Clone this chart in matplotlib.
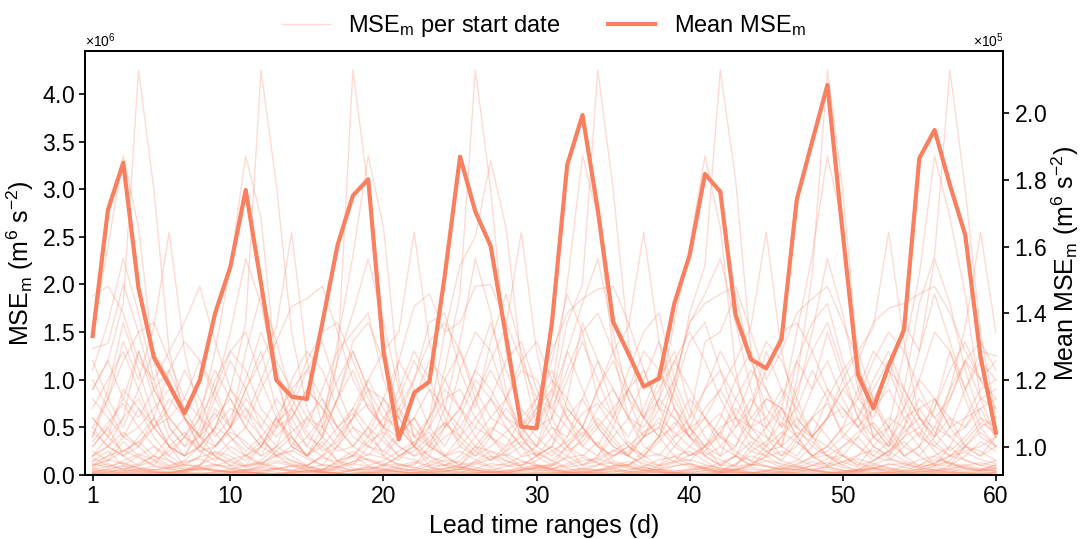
import matplotlib
matplotlib.use("Agg")
import matplotlib.pyplot as plt
from matplotlib.ticker import ScalarFormatter, MultipleLocator
import numpy as np

plt.rcParams["font.family"] = ["Liberation Sans", "DejaVu Sans"]
plt.rcParams["mathtext.fontset"] = "custom"
plt.rcParams["mathtext.rm"] = "Liberation Sans"
plt.rcParams["mathtext.it"] = "Liberation Sans:italic"
plt.rcParams["mathtext.bf"] = "Liberation Sans:bold"

COLOR = "#FA7F5E"

lead_days = list(range(1, 61))

# Mean MSE_m over all start dates (x 1e5, right axis)
mean_mse = [1.332, 1.710, 1.852, 1.475, 1.268, 1.185, 1.100, 1.200, 1.400, 1.540,
            1.770, 1.490, 1.200, 1.150, 1.143, 1.370, 1.605, 1.753, 1.802, 1.285,
            1.022, 1.162, 1.195, 1.512, 1.870, 1.705, 1.602, 1.331, 1.060, 1.055,
            1.370, 1.845, 1.995, 1.710, 1.375, 1.279, 1.180, 1.205, 1.430, 1.575,
            1.818, 1.765, 1.395, 1.262, 1.235, 1.322, 1.742, 1.915, 2.085, 1.640,
            1.215, 1.115, 1.243, 1.350, 1.865, 1.950, 1.785, 1.635, 1.270, 1.042]

# MSE_m per start date (x 1e6, left axis)
hi1 = [0.9, 1.2, 1.8, 4.25, 3.0, 1.3, 0.6, 0.3, 0.5, 0.9,
       1.6, 4.25, 3.05, 1.5, 0.7, 0.4, 1.2, 4.25, 3.0, 1.4,
       0.6, 0.3, 0.5, 1.1, 1.9, 4.25, 3.0, 1.3, 0.5, 0.3,
       0.8, 1.6, 2.0, 4.25, 3.0, 1.4, 0.6, 0.4, 0.9, 1.7,
       2.2, 4.25, 3.1, 1.3, 0.5, 0.3, 1.0, 2.1, 4.25, 3.0,
       1.2, 0.5, 0.3, 0.9, 1.8, 2.3, 4.25, 3.0, 1.5, 0.6]
hi2 = [1.5, 2.4, 3.35, 2.6, 1.2, 0.5, 0.3, 0.6, 1.3, 2.2,
       3.35, 2.7, 1.1, 0.4, 0.2, 0.5, 1.4, 2.3, 3.35, 2.6,
       1.0, 0.4, 0.6, 1.5, 2.2, 2.5, 3.3, 2.6, 1.2, 0.5,
       0.9, 2.0, 3.35, 2.7, 1.3, 0.6, 0.4, 0.8, 1.6, 2.4,
       3.35, 2.6, 1.1, 0.4, 0.3, 0.7, 1.5, 2.3, 3.35, 2.6,
       1.0, 0.4, 0.5, 1.3, 2.1, 3.35, 2.7, 1.9, 0.8, 0.4]
hi3 = [0.4, 0.8, 1.4, 1.0, 1.55, 2.55, 1.3, 0.6, 0.3, 0.5,
       0.9, 1.2, 1.55, 2.55, 1.2, 0.5, 0.3, 0.6, 1.0, 1.3,
       1.5, 2.55, 1.4, 0.7, 0.4, 0.8, 1.2, 1.55, 2.55, 1.3,
       0.6, 0.3, 0.5, 0.9, 1.3, 1.55, 2.55, 1.4, 0.7, 0.4,
       0.6, 0.9, 1.2, 1.55, 2.55, 1.3, 0.6, 0.4, 0.8, 1.1,
       1.3, 1.55, 2.55, 1.4, 0.6, 0.4, 0.9, 1.55, 2.55, 1.5]
hi4 = [1.1, 1.6, 2.27, 1.7, 1.0, 0.5, 0.3, 0.4, 0.9, 1.5,
       2.27, 1.8, 1.0, 0.5, 0.3, 0.6, 1.2, 1.7, 2.27, 1.6,
       0.9, 0.4, 0.3, 0.7, 1.4, 2.27, 1.7, 0.9, 0.4, 0.3,
       0.6, 1.3, 1.8, 2.27, 1.5, 0.8, 0.4, 0.5, 1.0, 1.6,
       1.9, 2.27, 1.6, 0.9, 0.4, 0.3, 0.8, 1.5, 2.27, 1.7,
       0.9, 0.4, 0.3, 0.7, 1.3, 2.27, 1.8, 1.1, 0.6, 0.4]
hi5 = [1.88, 1.98, 1.7, 1.2, 1.0, 1.3, 1.6, 1.98, 1.4, 0.9,
       0.6, 1.0, 1.4, 1.77, 1.85, 1.98, 1.5, 1.0, 0.7, 0.5,
       1.2, 1.77, 1.9, 1.5, 1.6, 1.98, 2.0, 1.6, 1.2, 0.8,
       1.3, 1.7, 1.85, 1.95, 1.98, 1.6, 1.1, 0.7, 1.0, 1.6,
       1.8, 1.9, 1.98, 1.5, 1.0, 1.3, 1.7, 1.85, 1.98, 1.6,
       1.2, 1.6, 1.75, 1.8, 1.9, 1.98, 1.7, 1.3, 1.0, 1.2]
hi6 = [1.33, 1.38, 2.0, 1.5, 0.9, 0.6, 0.8, 1.2, 0.9, 0.5,
       1.3, 1.9, 1.4, 0.8, 0.5, 0.9, 1.3, 1.5, 1.7, 1.0,
       0.6, 1.0, 1.6, 1.7, 1.1, 0.7, 1.4, 1.9, 1.3, 0.7,
       1.2, 1.9, 1.5, 0.8, 0.6, 1.1, 1.5, 1.7, 1.0, 0.6,
       1.4, 1.5, 1.9, 1.2, 0.7, 0.5, 1.2, 1.6, 1.8, 1.2,
       0.8, 0.6, 1.0, 1.6, 1.3, 1.9, 1.4, 0.9, 1.3, 1.25]
mid1 = [0.4, 0.9, 1.6, 1.1, 0.6, 0.3, 0.2, 0.5, 1.0, 1.3,
        1.5, 1.0, 0.6, 0.3, 0.2, 0.4, 0.8, 1.4, 1.6, 1.2,
        0.7, 0.3, 0.2, 0.5, 1.1, 1.5, 1.3, 0.8, 0.4, 0.2,
        0.3, 0.8, 1.6, 1.2, 0.7, 0.3, 0.2, 0.4, 0.9, 1.4,
        1.6, 1.1, 0.6, 0.3, 0.2, 0.4, 0.9, 1.3, 1.6, 1.1,
        0.6, 0.3, 0.2, 0.5, 1.0, 1.5, 1.3, 0.8, 0.4, 0.3]
mid2 = [1.0, 0.7, 0.4, 0.3, 0.6, 1.1, 1.4, 1.2, 0.8, 0.5,
        0.3, 0.2, 0.5, 1.0, 1.3, 1.1, 0.7, 0.4, 0.3, 0.5,
        0.9, 1.3, 1.0, 0.6, 0.3, 0.2, 0.4, 0.8, 1.2, 1.4,
        1.0, 0.6, 0.3, 0.2, 0.5, 0.9, 1.3, 1.1, 0.7, 0.4,
        0.3, 0.2, 0.6, 1.0, 1.4, 1.2, 0.8, 0.4, 0.3, 0.5,
        0.9, 1.3, 1.1, 0.7, 0.4, 0.3, 0.5, 0.9, 1.2, 1.0]
mid3 = [0.9, 1.2, 0.8, 1.3, 0.9, 0.6, 0.4, 0.7, 1.1, 0.8,
        0.5, 0.9, 1.2, 0.9, 0.6, 0.5, 0.8, 1.1, 0.7, 0.5,
        0.4, 0.8, 1.2, 1.0, 0.7, 1.1, 0.9, 0.6, 0.5, 0.8,
        1.1, 0.7, 0.5, 0.9, 1.2, 0.8, 0.6, 0.9, 1.2, 0.9,
        0.6, 0.4, 0.8, 1.1, 0.9, 0.6, 0.5, 0.9, 1.2, 0.8,
        0.5, 0.8, 1.1, 0.9, 0.6, 0.5, 0.9, 1.2, 0.8, 0.9]
mid4 = [0.6, 0.4, 0.9, 0.7, 0.5, 0.8, 0.6, 0.3, 0.5, 0.9,
        0.7, 0.5, 0.8, 0.6, 0.9, 0.7, 0.4, 0.6, 0.9, 0.8,
        0.5, 0.3, 0.6, 0.9, 0.7, 0.5, 0.8, 0.6, 0.4, 0.7,
        0.9, 0.6, 0.4, 0.7, 0.9, 0.6, 0.5, 0.8, 0.6, 0.4,
        0.7, 0.9, 0.6, 0.5, 0.8, 0.7, 0.4, 0.6, 0.9, 0.7,
        0.5, 0.7, 0.9, 0.6, 0.4, 0.8, 0.6, 0.5, 0.8, 0.7]
mid5 = [0.2, 0.3, 0.6, 1.3, 0.8, 0.4, 0.2, 0.3, 0.7, 0.5,
        0.9, 1.3, 0.7, 0.3, 0.2, 0.4, 0.8, 1.3, 0.9, 0.4,
        0.2, 0.3, 0.6, 1.0, 1.3, 0.8, 0.4, 0.2, 0.3, 0.5,
        0.8, 1.3, 0.9, 0.5, 0.3, 0.2, 0.6, 1.0, 1.3, 0.7,
        0.4, 0.2, 0.3, 0.7, 1.3, 0.9, 0.5, 0.3, 0.6, 1.0,
        1.3, 0.8, 0.4, 0.2, 0.3, 0.7, 1.3, 0.9, 0.5, 0.3]
mid6 = [0.7, 1.0, 1.3, 0.9, 0.5, 0.7, 1.1, 0.8, 0.4, 0.6,
        1.0, 1.5, 1.1, 0.7, 0.4, 0.6, 1.0, 1.3, 0.9, 0.6,
        0.8, 1.2, 0.9, 0.5, 0.7, 1.1, 1.6, 1.1, 0.7, 0.5,
        0.6, 1.0, 1.4, 1.0, 0.6, 0.4, 0.7, 1.1, 0.8, 0.5,
        0.9, 1.3, 1.0, 0.6, 0.5, 0.8, 1.2, 0.9, 1.5, 1.0,
        0.6, 0.9, 1.2, 0.8, 0.5, 0.7, 1.1, 1.4, 1.0, 0.8]
mid7 = [1.2, 0.8, 0.5, 0.9, 1.3, 1.0, 0.6, 0.4, 0.8, 1.2,
        0.9, 0.5, 0.3, 0.7, 1.1, 1.4, 0.9, 0.5, 0.4, 0.8,
        1.2, 0.9, 0.5, 0.3, 0.6, 1.0, 0.8, 1.2, 1.4, 0.9,
        0.5, 0.4, 0.8, 1.2, 0.9, 0.6, 1.0, 1.4, 0.9, 0.5,
        0.3, 0.6, 1.0, 1.3, 0.9, 0.5, 0.7, 1.1, 0.8, 0.4,
        0.6, 1.0, 1.3, 0.9, 0.6, 0.4, 0.8, 1.2, 1.0, 0.7]
mid8 = [0.5, 0.8, 1.2, 1.5, 1.6, 1.2, 0.8, 0.6, 0.9, 1.3,
        1.1, 0.7, 0.5, 0.8, 1.2, 1.5, 1.6, 1.2, 0.8, 0.5,
        0.7, 1.0, 1.4, 1.6, 1.3, 0.9, 0.6, 0.8, 1.1, 1.0,
        0.7, 1.1, 1.5, 1.7, 1.3, 0.9, 0.6, 0.8, 1.2, 1.5,
        1.2, 0.8, 0.5, 0.7, 1.1, 1.5, 1.6, 1.3, 0.9, 0.6,
        0.8, 1.2, 1.5, 1.3, 0.9, 0.6, 0.8, 1.2, 1.4, 1.1]
mid9 = [0.3, 0.5, 0.8, 0.6, 0.9, 1.1, 0.7, 0.4, 0.6, 0.8,
        0.5, 0.3, 0.6, 0.9, 1.1, 0.8, 0.5, 0.7, 1.0, 0.7,
        0.4, 0.6, 0.9, 0.7, 0.5, 0.8, 1.1, 0.8, 0.5, 0.7,
        1.0, 0.8, 0.5, 0.3, 0.6, 0.9, 1.1, 0.7, 0.4, 0.6,
        0.9, 1.1, 0.8, 0.5, 0.6, 0.9, 0.7, 0.4, 0.6, 0.9,
        1.1, 0.8, 0.5, 0.7, 1.0, 0.8, 0.5, 0.6, 0.9, 1.0]
low1 = [0.3, 0.5, 0.2, 0.4, 0.6, 0.3, 0.1, 0.2, 0.5, 0.4,
        0.2, 0.3, 0.6, 0.4, 0.2, 0.1, 0.3, 0.5, 0.3, 0.2,
        0.4, 0.6, 0.3, 0.2, 0.1, 0.3, 0.5, 0.4, 0.2, 0.3,
        0.5, 0.3, 0.1, 0.2, 0.4, 0.6, 0.3, 0.2, 0.4, 0.5,
        0.3, 0.1, 0.2, 0.5, 0.4, 0.2, 0.3, 0.6, 0.4, 0.2,
        0.1, 0.3, 0.5, 0.3, 0.2, 0.4, 0.6, 0.3, 0.2, 0.3]
low2 = [0.1, 0.2, 0.4, 0.7, 0.4, 0.2, 0.1, 0.1, 0.3, 0.5,
        0.7, 0.4, 0.2, 0.1, 0.1, 0.2, 0.4, 0.7, 0.5, 0.2,
        0.1, 0.1, 0.3, 0.5, 0.7, 0.4, 0.2, 0.1, 0.1, 0.2,
        0.4, 0.7, 0.5, 0.3, 0.1, 0.1, 0.2, 0.4, 0.7, 0.5,
        0.2, 0.1, 0.1, 0.3, 0.5, 0.7, 0.4, 0.2, 0.1, 0.2,
        0.4, 0.7, 0.5, 0.2, 0.1, 0.1, 0.3, 0.6, 0.7, 0.4]
low3 = [0.5, 0.3, 0.2, 0.1, 0.2, 0.4, 0.6, 0.4, 0.2, 0.1,
        0.1, 0.3, 0.5, 0.6, 0.3, 0.2, 0.1, 0.2, 0.4, 0.6,
        0.5, 0.3, 0.1, 0.1, 0.2, 0.4, 0.6, 0.5, 0.3, 0.1,
        0.1, 0.2, 0.4, 0.6, 0.4, 0.2, 0.1, 0.1, 0.3, 0.5,
        0.6, 0.3, 0.2, 0.1, 0.2, 0.4, 0.6, 0.4, 0.2, 0.1,
        0.2, 0.4, 0.6, 0.5, 0.3, 0.1, 0.1, 0.3, 0.5, 0.6]
low4 = [0.25, 0.15, 0.35, 0.2, 0.1, 0.3, 0.45, 0.25, 0.15, 0.3,
        0.2, 0.1, 0.25, 0.4, 0.2, 0.35, 0.15, 0.1, 0.3, 0.25,
        0.15, 0.35, 0.45, 0.2, 0.1, 0.25, 0.15, 0.3, 0.4, 0.2,
        0.1, 0.3, 0.2, 0.35, 0.15, 0.1, 0.25, 0.4, 0.2, 0.15,
        0.3, 0.45, 0.2, 0.1, 0.25, 0.15, 0.35, 0.2, 0.1, 0.3,
        0.4, 0.2, 0.15, 0.3, 0.45, 0.25, 0.1, 0.2, 0.35, 0.25]
low5 = [0.15, 0.25, 0.1, 0.2, 0.3, 0.15, 0.05, 0.1, 0.25, 0.2,
        0.1, 0.15, 0.3, 0.2, 0.1, 0.05, 0.15, 0.25, 0.15, 0.1,
        0.2, 0.3, 0.15, 0.1, 0.05, 0.15, 0.25, 0.2, 0.1, 0.15,
        0.25, 0.15, 0.05, 0.1, 0.2, 0.3, 0.15, 0.1, 0.2, 0.25,
        0.15, 0.05, 0.1, 0.25, 0.2, 0.1, 0.15, 0.3, 0.2, 0.1,
        0.05, 0.15, 0.25, 0.15, 0.1, 0.2, 0.3, 0.15, 0.1, 0.15]
low6 = [0.35, 0.55, 0.75, 0.5, 0.3, 0.2, 0.4, 0.6, 0.45, 0.25,
        0.15, 0.3, 0.55, 0.7, 0.45, 0.25, 0.35, 0.6, 0.75, 0.5,
        0.3, 0.2, 0.35, 0.55, 0.4, 0.25, 0.45, 0.7, 0.5, 0.3,
        0.2, 0.4, 0.65, 0.75, 0.5, 0.3, 0.2, 0.35, 0.55, 0.4,
        0.25, 0.45, 0.7, 0.5, 0.3, 0.2, 0.4, 0.6, 0.75, 0.45,
        0.3, 0.2, 0.35, 0.6, 0.7, 0.45, 0.25, 0.4, 0.6, 0.5]
low7 = [0.6, 0.4, 0.25, 0.35, 0.5, 0.3, 0.2, 0.45, 0.65, 0.4,
        0.25, 0.4, 0.6, 0.35, 0.2, 0.3, 0.5, 0.65, 0.4, 0.25,
        0.45, 0.6, 0.35, 0.2, 0.3, 0.5, 0.4, 0.25, 0.45, 0.65,
        0.4, 0.25, 0.35, 0.55, 0.35, 0.2, 0.4, 0.6, 0.45, 0.3,
        0.5, 0.65, 0.4, 0.25, 0.35, 0.55, 0.4, 0.2, 0.3, 0.5,
        0.6, 0.4, 0.25, 0.45, 0.6, 0.35, 0.2, 0.35, 0.55, 0.45]
low8 = [0.2, 0.3, 0.45, 0.3, 0.15, 0.25, 0.4, 0.3, 0.2, 0.35,
        0.5, 0.3, 0.2, 0.25, 0.4, 0.3, 0.15, 0.2, 0.35, 0.45,
        0.3, 0.2, 0.25, 0.4, 0.5, 0.3, 0.15, 0.25, 0.35, 0.25,
        0.15, 0.3, 0.45, 0.3, 0.2, 0.25, 0.4, 0.5, 0.3, 0.2,
        0.3, 0.4, 0.25, 0.15, 0.3, 0.45, 0.35, 0.2, 0.25, 0.4,
        0.3, 0.15, 0.25, 0.4, 0.5, 0.3, 0.2, 0.3, 0.45, 0.3]
low9 = [0.1, 0.15, 0.25, 0.35, 0.2, 0.1, 0.15, 0.3, 0.2, 0.1,
        0.2, 0.35, 0.25, 0.15, 0.1, 0.2, 0.3, 0.2, 0.1, 0.15,
        0.25, 0.35, 0.2, 0.1, 0.15, 0.3, 0.25, 0.15, 0.1, 0.2,
        0.3, 0.2, 0.1, 0.15, 0.25, 0.35, 0.2, 0.1, 0.15, 0.3,
        0.2, 0.1, 0.2, 0.35, 0.25, 0.15, 0.1, 0.2, 0.3, 0.2,
        0.1, 0.15, 0.25, 0.35, 0.2, 0.1, 0.15, 0.3, 0.25, 0.15]
low10 = [0.45, 0.3, 0.2, 0.3, 0.5, 0.6, 0.4, 0.25, 0.3, 0.45,
         0.35, 0.2, 0.3, 0.45, 0.6, 0.4, 0.25, 0.3, 0.5, 0.35,
         0.2, 0.25, 0.4, 0.55, 0.35, 0.2, 0.3, 0.45, 0.6, 0.4,
         0.25, 0.35, 0.5, 0.3, 0.2, 0.3, 0.45, 0.55, 0.35, 0.2,
         0.3, 0.5, 0.6, 0.4, 0.25, 0.3, 0.45, 0.35, 0.2, 0.3,
         0.45, 0.55, 0.35, 0.2, 0.3, 0.5, 0.4, 0.25, 0.3, 0.4]
low11 = [0.8, 0.6, 0.4, 0.5, 0.7, 0.9, 0.6, 0.4, 0.3, 0.5,
         0.8, 0.6, 0.4, 0.6, 0.9, 0.7, 0.5, 0.3, 0.5, 0.8,
         0.6, 0.4, 0.5, 0.8, 0.9, 0.6, 0.4, 0.3, 0.6, 0.8,
         0.7, 0.5, 0.3, 0.5, 0.7, 0.9, 0.6, 0.4, 0.5, 0.8,
         0.6, 0.4, 0.3, 0.6, 0.8, 0.7, 0.5, 0.4, 0.6, 0.9,
         0.7, 0.5, 0.3, 0.5, 0.8, 0.6, 0.4, 0.5, 0.7, 0.8]
low12 = [0.2, 0.4, 0.6, 0.8, 0.5, 0.3, 0.2, 0.3, 0.5, 0.7,
         0.6, 0.4, 0.2, 0.3, 0.6, 0.8, 0.5, 0.3, 0.2, 0.4,
         0.7, 0.5, 0.3, 0.2, 0.4, 0.6, 0.8, 0.5, 0.3, 0.2,
         0.3, 0.6, 0.8, 0.5, 0.3, 0.2, 0.4, 0.7, 0.6, 0.4,
         0.2, 0.3, 0.5, 0.8, 0.6, 0.3, 0.2, 0.4, 0.6, 0.7,
         0.5, 0.3, 0.2, 0.4, 0.7, 0.8, 0.5, 0.3, 0.2, 0.4]
floor1 = [0.08, 0.12, 0.05, 0.10, 0.14, 0.07, 0.03, 0.06, 0.11, 0.09,
          0.05, 0.08, 0.13, 0.10, 0.06, 0.03, 0.07, 0.12, 0.09, 0.05,
          0.10, 0.14, 0.08, 0.05, 0.03, 0.07, 0.12, 0.10, 0.06, 0.08,
          0.12, 0.07, 0.03, 0.05, 0.10, 0.14, 0.08, 0.05, 0.09, 0.12,
          0.07, 0.03, 0.05, 0.11, 0.10, 0.06, 0.08, 0.14, 0.09, 0.05,
          0.03, 0.07, 0.12, 0.08, 0.05, 0.10, 0.13, 0.07, 0.05, 0.08]
floor2 = [0.04, 0.06, 0.09, 0.05, 0.03, 0.02, 0.05, 0.08, 0.06, 0.03,
          0.02, 0.04, 0.07, 0.09, 0.05, 0.03, 0.02, 0.05, 0.08, 0.06,
          0.03, 0.02, 0.04, 0.07, 0.09, 0.05, 0.03, 0.02, 0.05, 0.08,
          0.06, 0.03, 0.02, 0.04, 0.07, 0.09, 0.05, 0.03, 0.02, 0.05,
          0.08, 0.06, 0.03, 0.02, 0.04, 0.07, 0.09, 0.05, 0.03, 0.02,
          0.05, 0.08, 0.06, 0.03, 0.02, 0.04, 0.07, 0.09, 0.05, 0.04]
floor3 = [0.02, 0.03, 0.02, 0.04, 0.03, 0.02, 0.01, 0.02, 0.03, 0.04,
          0.02, 0.01, 0.02, 0.03, 0.04, 0.03, 0.02, 0.01, 0.02, 0.03,
          0.04, 0.02, 0.01, 0.02, 0.03, 0.02, 0.04, 0.03, 0.02, 0.01,
          0.02, 0.03, 0.04, 0.02, 0.01, 0.02, 0.03, 0.04, 0.03, 0.02,
          0.01, 0.02, 0.03, 0.02, 0.04, 0.03, 0.02, 0.01, 0.02, 0.03,
          0.04, 0.02, 0.01, 0.02, 0.03, 0.04, 0.02, 0.01, 0.02, 0.03]
floor4 = [0.18, 0.10, 0.06, 0.12, 0.20, 0.15, 0.08, 0.04, 0.09, 0.16,
          0.21, 0.12, 0.06, 0.04, 0.10, 0.18, 0.14, 0.07, 0.05, 0.11,
          0.19, 0.16, 0.09, 0.04, 0.06, 0.13, 0.20, 0.15, 0.08, 0.05,
          0.10, 0.18, 0.21, 0.12, 0.06, 0.04, 0.09, 0.16, 0.19, 0.11,
          0.06, 0.04, 0.12, 0.20, 0.15, 0.08, 0.05, 0.10, 0.17, 0.21,
          0.13, 0.07, 0.04, 0.09, 0.16, 0.20, 0.12, 0.06, 0.05, 0.11]
floor5 = [0.01, 0.01, 0.02, 0.01, 0.01, 0.02, 0.01, 0.01, 0.01, 0.02,
          0.01, 0.02, 0.01, 0.01, 0.01, 0.02, 0.01, 0.01, 0.02, 0.01,
          0.01, 0.01, 0.02, 0.01, 0.01, 0.02, 0.01, 0.01, 0.01, 0.02,
          0.01, 0.02, 0.01, 0.01, 0.01, 0.02, 0.01, 0.01, 0.02, 0.01,
          0.01, 0.01, 0.02, 0.01, 0.01, 0.02, 0.01, 0.01, 0.01, 0.02,
          0.01, 0.02, 0.01, 0.01, 0.01, 0.02, 0.01, 0.01, 0.02, 0.01]
floor6 = [0.06, 0.09, 0.13, 0.08, 0.05, 0.07, 0.11, 0.08, 0.04, 0.06,
          0.10, 0.13, 0.08, 0.05, 0.07, 0.11, 0.09, 0.05, 0.06, 0.10,
          0.12, 0.08, 0.05, 0.07, 0.11, 0.13, 0.08, 0.05, 0.06, 0.10,
          0.08, 0.05, 0.07, 0.11, 0.13, 0.09, 0.05, 0.06, 0.10, 0.12,
          0.08, 0.05, 0.07, 0.11, 0.09, 0.05, 0.06, 0.10, 0.13, 0.08,
          0.05, 0.07, 0.11, 0.12, 0.08, 0.05, 0.06, 0.10, 0.13, 0.09]
floor7 = [0.03, 0.05, 0.04, 0.06, 0.03, 0.02, 0.04, 0.06, 0.05, 0.03,
          0.04, 0.06, 0.03, 0.02, 0.05, 0.04, 0.06, 0.03, 0.02, 0.04,
          0.06, 0.05, 0.03, 0.04, 0.06, 0.03, 0.02, 0.05, 0.04, 0.06,
          0.03, 0.02, 0.04, 0.06, 0.05, 0.03, 0.04, 0.06, 0.03, 0.02,
          0.05, 0.04, 0.06, 0.03, 0.02, 0.04, 0.06, 0.05, 0.03, 0.04,
          0.06, 0.03, 0.02, 0.05, 0.04, 0.06, 0.03, 0.02, 0.04, 0.05]
floor8 = [0.14, 0.20, 0.26, 0.18, 0.10, 0.07, 0.12, 0.19, 0.24, 0.16,
          0.09, 0.13, 0.21, 0.26, 0.17, 0.10, 0.08, 0.14, 0.22, 0.18,
          0.11, 0.07, 0.13, 0.20, 0.25, 0.16, 0.09, 0.12, 0.19, 0.23,
          0.15, 0.08, 0.11, 0.18, 0.26, 0.20, 0.12, 0.07, 0.13, 0.21,
          0.24, 0.16, 0.09, 0.12, 0.19, 0.25, 0.17, 0.10, 0.08, 0.14,
          0.21, 0.26, 0.18, 0.11, 0.07, 0.13, 0.20, 0.24, 0.16, 0.12]
floor9 = [0.02, 0.01, 0.03, 0.02, 0.01, 0.02, 0.03, 0.02, 0.01, 0.02,
          0.03, 0.02, 0.01, 0.02, 0.03, 0.02, 0.02, 0.01, 0.03, 0.02,
          0.01, 0.02, 0.03, 0.02, 0.01, 0.02, 0.03, 0.02, 0.01, 0.03,
          0.02, 0.01, 0.02, 0.03, 0.02, 0.01, 0.02, 0.03, 0.02, 0.01,
          0.02, 0.03, 0.02, 0.01, 0.02, 0.03, 0.02, 0.01, 0.02, 0.03,
          0.02, 0.01, 0.03, 0.02, 0.01, 0.02, 0.03, 0.02, 0.01, 0.02]
floor10 = [0.05, 0.03, 0.07, 0.04, 0.06, 0.03, 0.05, 0.07, 0.04, 0.03,
           0.06, 0.04, 0.07, 0.05, 0.03, 0.06, 0.04, 0.05, 0.07, 0.03,
           0.04, 0.06, 0.05, 0.03, 0.07, 0.04, 0.06, 0.03, 0.05, 0.07,
           0.04, 0.03, 0.06, 0.05, 0.07, 0.04, 0.03, 0.06, 0.05, 0.04,
           0.07, 0.03, 0.05, 0.06, 0.04, 0.07, 0.05, 0.03, 0.06, 0.04,
           0.05, 0.07, 0.03, 0.04, 0.06, 0.05, 0.03, 0.07, 0.04, 0.06]
floor11 = [0.03, 0.06, 0.10, 0.07, 0.04, 0.02, 0.05, 0.09, 0.11, 0.06,
           0.03, 0.02, 0.06, 0.10, 0.08, 0.04, 0.02, 0.05, 0.09, 0.07,
           0.04, 0.02, 0.06, 0.11, 0.08, 0.05, 0.03, 0.04, 0.08, 0.10,
           0.06, 0.03, 0.02, 0.05, 0.09, 0.11, 0.07, 0.04, 0.02, 0.06,
           0.10, 0.08, 0.04, 0.02, 0.05, 0.09, 0.10, 0.06, 0.03, 0.02,
           0.06, 0.10, 0.08, 0.04, 0.03, 0.05, 0.09, 0.11, 0.07, 0.04]
floor12 = [0.01, 0.03, 0.05, 0.03, 0.02, 0.04, 0.02, 0.01, 0.03, 0.05,
           0.04, 0.02, 0.01, 0.03, 0.05, 0.03, 0.01, 0.02, 0.04, 0.05,
           0.03, 0.01, 0.02, 0.04, 0.03, 0.05, 0.02, 0.01, 0.03, 0.04,
           0.05, 0.03, 0.01, 0.02, 0.04, 0.03, 0.05, 0.02, 0.01, 0.03,
           0.04, 0.02, 0.05, 0.03, 0.01, 0.02, 0.04, 0.05, 0.03, 0.01,
           0.03, 0.05, 0.02, 0.01, 0.04, 0.03, 0.05, 0.02, 0.01, 0.03]
floor13 = [0.12, 0.08, 0.15, 0.22, 0.16, 0.09, 0.06, 0.11, 0.18, 0.14,
           0.08, 0.12, 0.20, 0.15, 0.09, 0.06, 0.13, 0.21, 0.16, 0.10,
           0.07, 0.12, 0.19, 0.14, 0.08, 0.11, 0.17, 0.22, 0.15, 0.09,
           0.06, 0.12, 0.18, 0.13, 0.08, 0.11, 0.19, 0.22, 0.14, 0.09,
           0.07, 0.13, 0.20, 0.15, 0.09, 0.06, 0.12, 0.18, 0.21, 0.14,
           0.08, 0.11, 0.17, 0.13, 0.08, 0.12, 0.20, 0.16, 0.10, 0.07]
floor14 = [0.02, 0.02, 0.01, 0.02, 0.03, 0.02, 0.02, 0.01, 0.02, 0.02,
           0.03, 0.02, 0.01, 0.02, 0.02, 0.03, 0.02, 0.01, 0.02, 0.02,
           0.02, 0.03, 0.02, 0.01, 0.02, 0.02, 0.03, 0.02, 0.01, 0.02,
           0.02, 0.02, 0.03, 0.02, 0.01, 0.02, 0.02, 0.03, 0.02, 0.01,
           0.02, 0.02, 0.03, 0.02, 0.01, 0.02, 0.02, 0.03, 0.02, 0.01,
           0.02, 0.02, 0.03, 0.02, 0.01, 0.02, 0.02, 0.03, 0.02, 0.02]
floor15 = [0.07, 0.04, 0.03, 0.06, 0.09, 0.06, 0.04, 0.07, 0.05, 0.03,
           0.05, 0.08, 0.06, 0.04, 0.03, 0.06, 0.08, 0.05, 0.03, 0.05,
           0.07, 0.04, 0.03, 0.06, 0.08, 0.06, 0.04, 0.03, 0.05, 0.08,
           0.06, 0.04, 0.07, 0.05, 0.03, 0.06, 0.08, 0.05, 0.04, 0.07,
           0.05, 0.03, 0.06, 0.08, 0.05, 0.04, 0.03, 0.06, 0.08, 0.05,
           0.04, 0.07, 0.05, 0.03, 0.06, 0.08, 0.06, 0.04, 0.05, 0.07]
floor16 = [0.10, 0.16, 0.12, 0.07, 0.05, 0.09, 0.14, 0.17, 0.11, 0.07,
           0.05, 0.10, 0.15, 0.12, 0.08, 0.05, 0.09, 0.14, 0.17, 0.12,
           0.07, 0.05, 0.10, 0.16, 0.13, 0.08, 0.05, 0.09, 0.14, 0.11,
           0.07, 0.10, 0.15, 0.17, 0.12, 0.07, 0.05, 0.09, 0.14, 0.16,
           0.11, 0.07, 0.05, 0.10, 0.15, 0.12, 0.08, 0.05, 0.09, 0.14,
           0.17, 0.12, 0.07, 0.05, 0.10, 0.16, 0.13, 0.08, 0.06, 0.10]

start_date_series = [hi1, hi2, hi3, hi4, hi5, hi6,
                     mid1, mid2, mid3, mid4, mid5, mid6, mid7, mid8, mid9,
                     low1, low2, low3, low4, low5, low6, low7, low8, low9,
                     low10, low11, low12,
                     floor1, floor2, floor3, floor4, floor5, floor6, floor7,
                     floor8, floor9, floor10, floor11, floor12, floor13,
                     floor14, floor15, floor16]

x = np.array(lead_days)

fig = plt.figure(figsize=(10.81, 5.39), dpi=100)
ax = fig.add_axes([0.0786, 0.1187, 0.8497, 0.7867])
ax2 = ax.twinx()

for s in start_date_series:
    ax.plot(x, np.array(s) * 1e6, color=COLOR, alpha=0.28, lw=1.0)

ax2.plot(x, np.array(mean_mse) * 1e5, color=COLOR, lw=3.0)

ax.set_xlim(0.5, 60.5)
ax.set_ylim(0, 4.45e6)
ax2.set_ylim(0.915e5, 2.187e5)
ax.set_xticks([1, 10, 20, 30, 40, 50, 60])
ax.yaxis.set_major_locator(MultipleLocator(0.5e6))
ax2.yaxis.set_major_locator(MultipleLocator(0.2e5))

for a, p in ((ax, 6), (ax2, 5)):
    a.yaxis.set_major_formatter(ScalarFormatter(useMathText=True))
    a.ticklabel_format(axis="y", style="sci", scilimits=(p, p))
    a.yaxis.get_offset_text().set_fontsize(10)
    a.tick_params(labelsize=16.5, width=1.2, length=4)
    for sp in a.spines.values():
        sp.set_linewidth(1.3)

ax.set_xlabel("Lead time ranges (d)", fontsize=18)
ax.set_ylabel(r"MSE$_\mathrm{m}$ (m$^6$ s$^{-2}$)", fontsize=18)
ax2.set_ylabel(r"Mean MSE$_\mathrm{m}$ (m$^6$ s$^{-2}$)", fontsize=18, labelpad=2)

handles = [plt.Line2D([], [], color=COLOR, alpha=0.28, lw=1.0),
           plt.Line2D([], [], color=COLOR, lw=3.0)]
labels = [r"MSE$_\mathrm{m}$ per start date", r"Mean MSE$_\mathrm{m}$"]
ax.legend(handles, labels, loc="lower center", bbox_to_anchor=(0.5, 1.0),
          ncol=2, frameon=False, fontsize=17, handlelength=2.0,
          columnspacing=2.0, borderaxespad=0.1)

fig.savefig("out.png", dpi=100)
